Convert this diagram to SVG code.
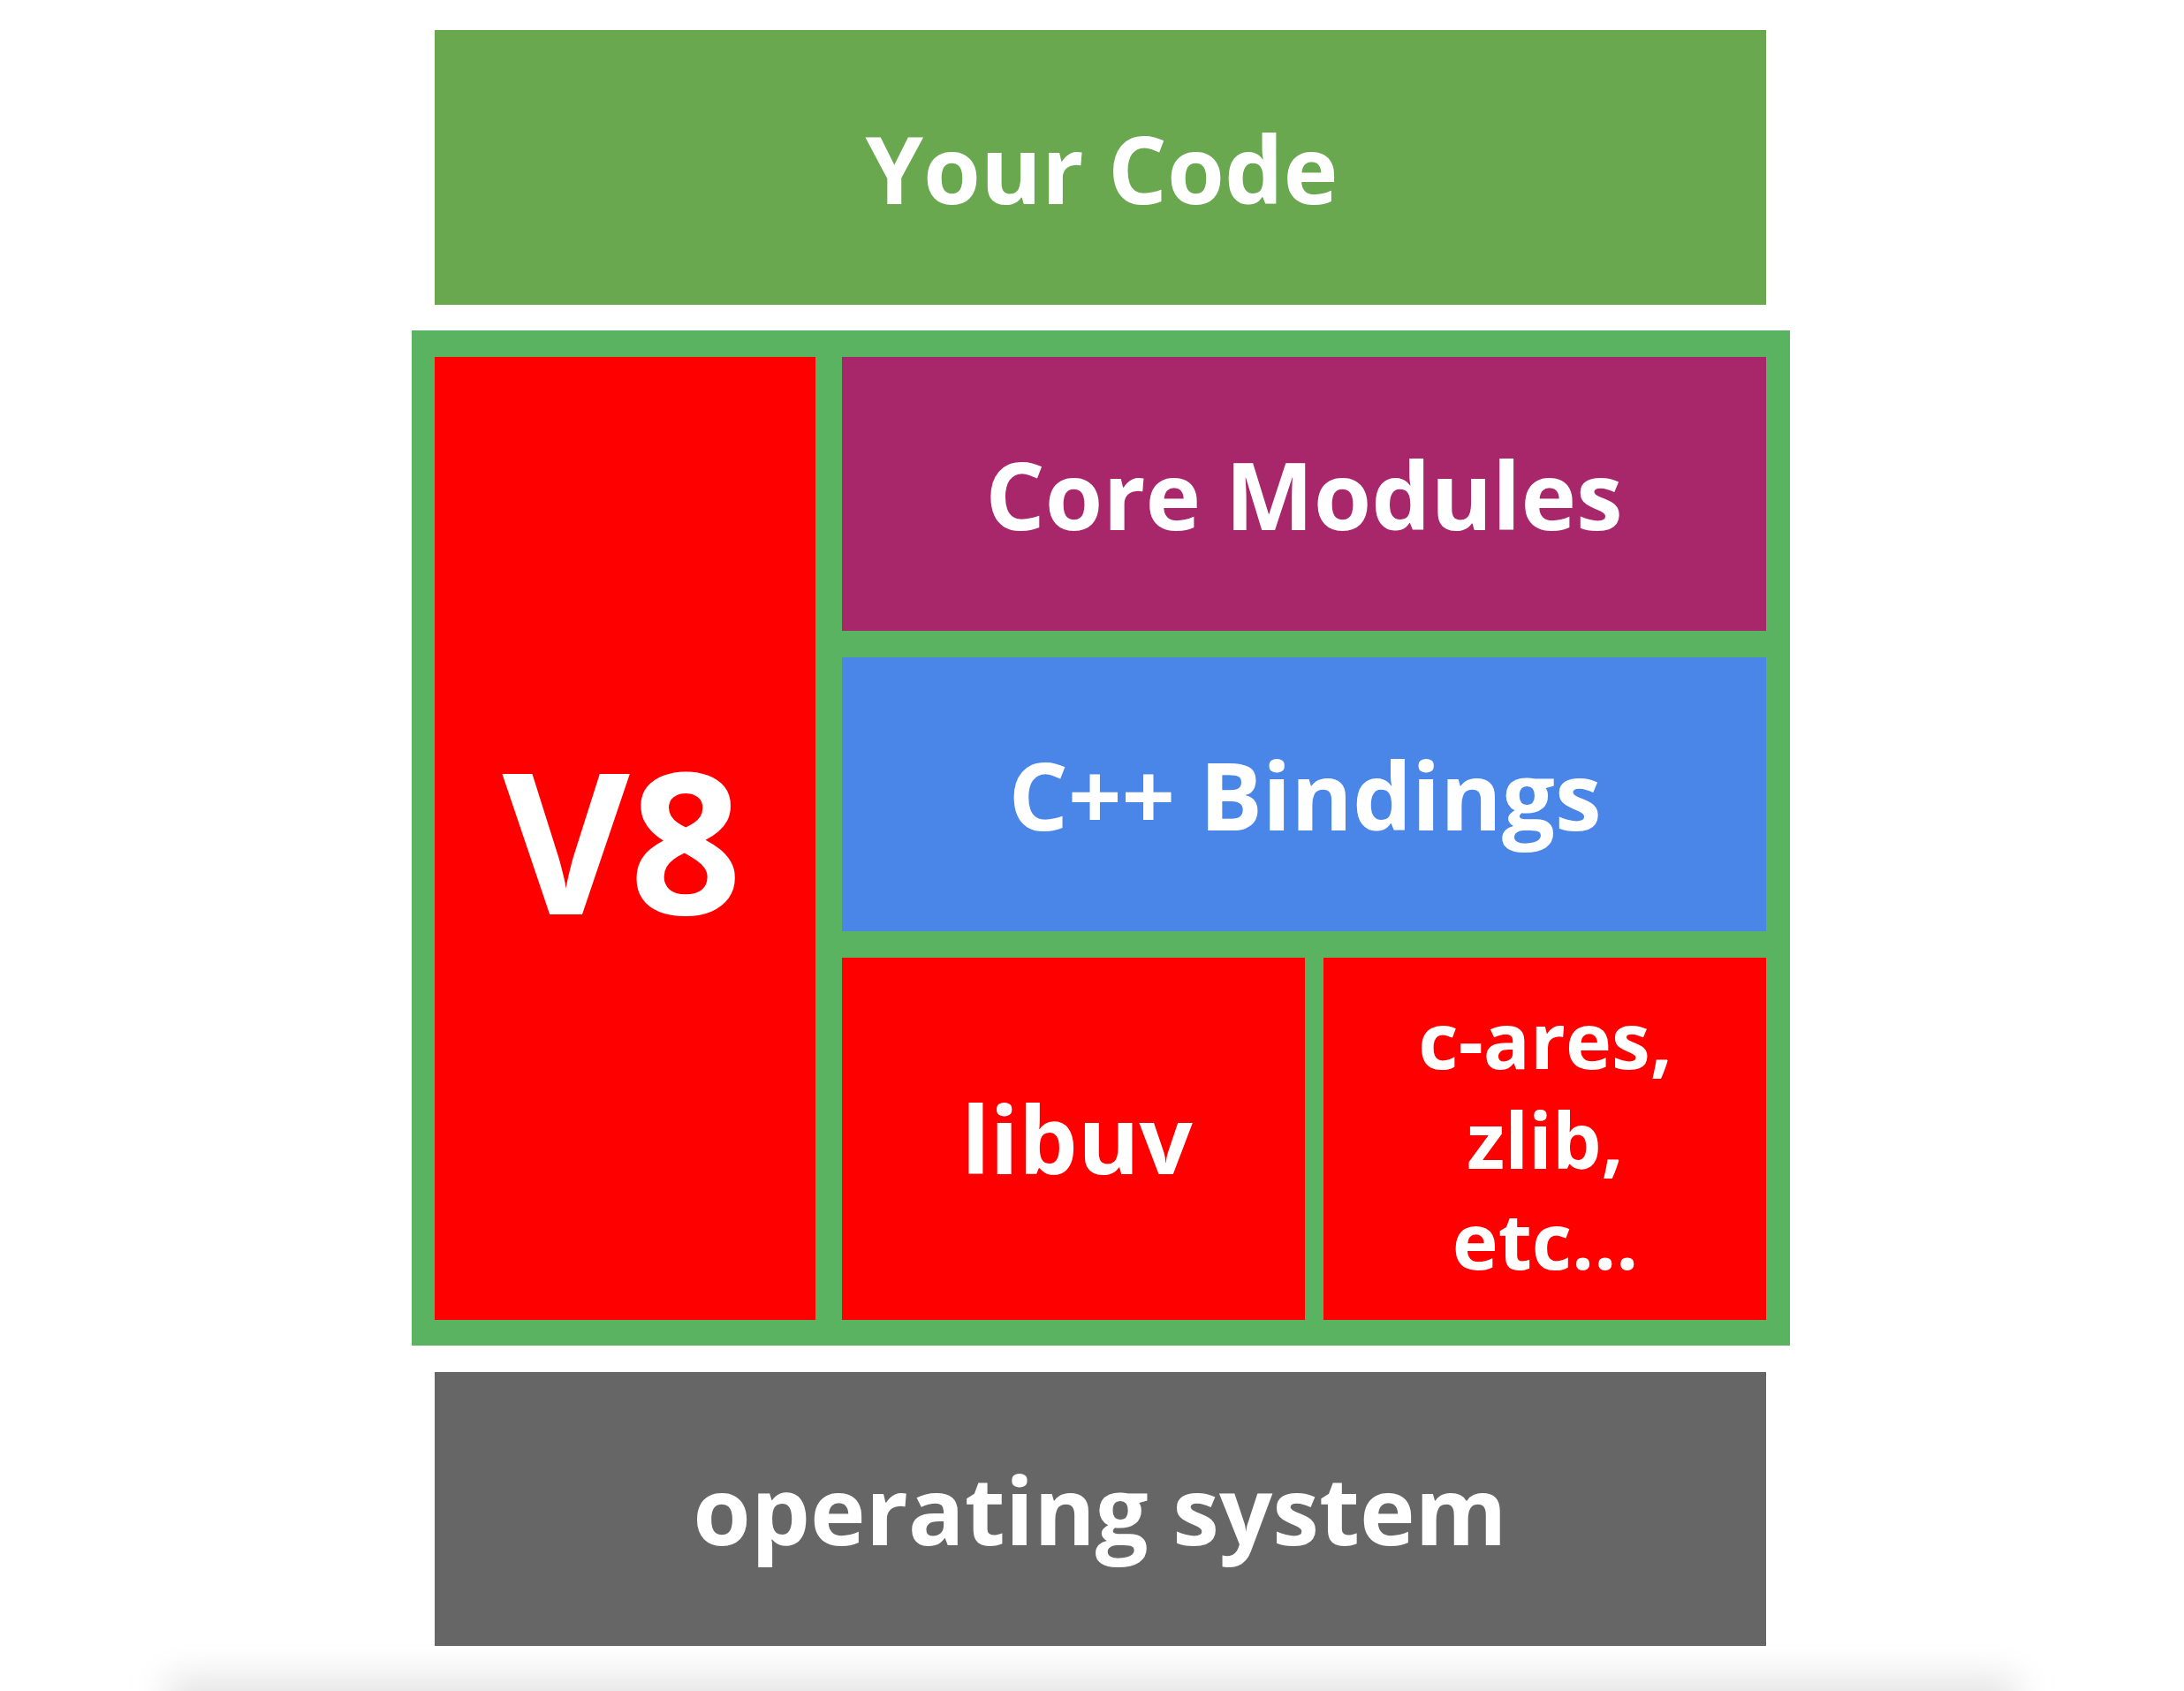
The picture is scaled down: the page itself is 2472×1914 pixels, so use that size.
<svg xmlns="http://www.w3.org/2000/svg" width="2472" height="1914" viewBox="0 0 2472 1914">
  <defs>
    <filter id="soft" x="-10%" y="-100%" width="120%" height="300%">
      <feGaussianBlur stdDeviation="20"/>
    </filter>
  </defs>
  <style>
    .lbl { font-family: "Open Sans", "Noto Sans", "Liberation Sans", sans-serif; font-weight: 700; fill: #ffffff; text-anchor: middle; }
    .red { fill: #ff0000; }
  </style>
  <rect x="0" y="0" width="2472" height="1914" fill="#ffffff"/>
  <rect x="190" y="1898" width="2092" height="90" fill="#e4e4e4" filter="url(#soft)"/>

  <g id="your-code">
    <rect x="492" y="34" width="1507" height="311" fill="#6aa84f"/>
    <text class="lbl" x="1247" y="231" font-size="105">Your Code</text>
  </g>

  <g id="node-frame">
    <rect x="466" y="374" width="1560" height="1149" fill="#5ab361"/>
  </g>

  <g id="v8">
    <rect class="red" x="492" y="404" width="431" height="1090"/>
    <text class="lbl" x="704" y="1035" font-size="222">V8</text>
  </g>

  <g id="core-modules">
    <rect x="953" y="404" width="1046" height="310" fill="#a8276a"/>
    <text class="lbl" x="1476" y="600" font-size="106">Core Modules</text>
  </g>

  <g id="cpp-bindings">
    <rect x="953" y="744" width="1046" height="310" fill="#4a86e8"/>
    <text class="lbl" x="1477" y="940" font-size="106">C++ Bindings</text>
  </g>

  <g id="libuv">
    <rect class="red" x="953" y="1084" width="524" height="410"/>
    <text class="lbl" x="1219" y="1329" font-size="106">libuv</text>
  </g>

  <g id="c-ares">
    <rect class="red" x="1498" y="1084" width="501" height="410"/>
    <text class="lbl" font-size="88"><tspan x="1749" y="1210">c-ares,</tspan><tspan x="1749" y="1323">zlib,</tspan><tspan x="1749" y="1437">etc...</tspan></text>
  </g>

  <g id="operating-system">
    <rect x="492" y="1553" width="1507" height="310" fill="#666666"/>
    <text class="lbl" x="1245" y="1749" font-size="106">operating system</text>
  </g>

  <g id="connectors"/>
</svg>
